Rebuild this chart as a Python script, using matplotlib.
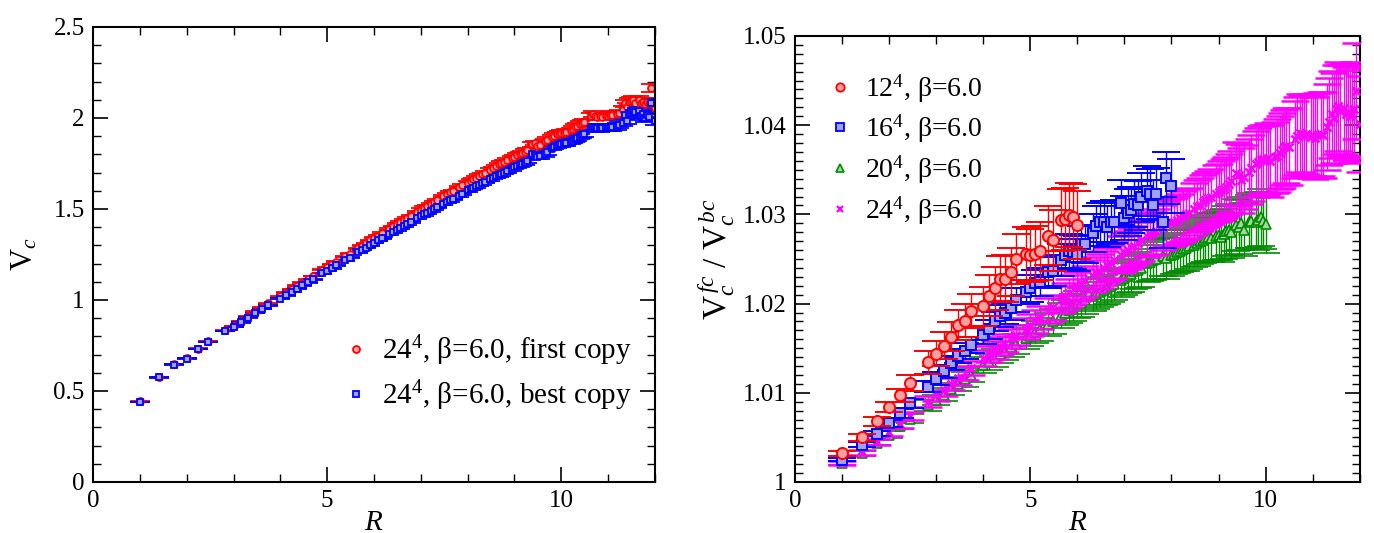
import numpy as np
import matplotlib
matplotlib.use('Agg')
import matplotlib.pyplot as plt
from matplotlib.lines import Line2D
from matplotlib.ticker import MultipleLocator, FormatStrFormatter

plt.rcParams['font.family'] = ['Liberation Serif', 'DejaVu Serif']
plt.rcParams['mathtext.fontset'] = 'custom'
plt.rcParams['mathtext.rm'] = 'Liberation Serif'
plt.rcParams['mathtext.it'] = 'Liberation Serif:italic'

# squared lattice distances (R^2 = n1^2 + n2^2 + n3^2)
R2 = [1, 2, 3, 4, 5, 6, 8, 9, 10, 11, 12, 13, 14, 16, 17, 18, 19, 20, 21, 22,
      24, 25, 26, 27, 29, 30, 32, 33, 34, 35, 36, 37, 38, 40, 41, 42, 43, 44, 45, 46,
      48, 49, 50, 51, 52, 53, 54, 56, 57, 58, 59, 61, 62, 64, 65, 66, 67, 68, 69, 70,
      72, 73, 74, 75, 76, 77, 78, 80, 81, 82, 83, 84, 85, 86, 88, 89, 90, 91, 93, 94,
      96, 97, 98, 99, 100, 101, 102, 104, 105, 106, 107, 108, 109, 110, 113, 114, 115, 116, 117, 118,
      120, 121, 122, 123, 125, 126, 128, 129, 130, 131, 132, 133, 134, 136, 137, 138, 139, 140, 141, 142,
      144]
R = np.sqrt(R2)

# left panel: V_c for 24^4, first copy / best copy
vc_first = [0.443, 0.578, 0.648, 0.681, 0.733, 0.773, 0.833, 0.856, 0.884, 0.910,
            0.936, 0.959, 0.981, 1.020, 1.040, 1.060, 1.079, 1.096, 1.114, 1.132,
            1.165, 1.179, 1.195, 1.210, 1.240, 1.255, 1.285, 1.299, 1.312, 1.327,
            1.341, 1.354, 1.367, 1.391, 1.404, 1.416, 1.428, 1.440, 1.452, 1.463,
            1.485, 1.497, 1.508, 1.518, 1.529, 1.540, 1.551, 1.571, 1.581, 1.591,
            1.600, 1.620, 1.629, 1.645, 1.655, 1.664, 1.672, 1.682, 1.690, 1.700,
            1.716, 1.724, 1.734, 1.745, 1.752, 1.760, 1.768, 1.780, 1.788, 1.794,
            1.800, 1.806, 1.815, 1.824, 1.855, 1.862, 1.848, 1.852, 1.872, 1.880,
            1.895, 1.902, 1.910, 1.912, 1.918, 1.920, 1.925, 1.932, 1.940, 1.950,
            1.957, 1.965, 1.972, 1.978, 2.010, 2.020, 2.012, 2.005, 2.010, 2.008,
            2.012, 2.010, 2.015, 2.018, 2.020, 2.025, 2.045, 2.080, 2.060, 2.090,
            2.095, 2.100, 2.085, 2.098, 2.080, 2.090, 2.075, 2.090, 2.080, 2.165,
            2.055]
vc_best = [0.440, 0.575, 0.645, 0.678, 0.729, 0.768, 0.828, 0.850, 0.878, 0.903,
           0.928, 0.950, 0.970, 1.007, 1.026, 1.045, 1.063, 1.080, 1.097, 1.114,
           1.146, 1.160, 1.175, 1.190, 1.219, 1.233, 1.262, 1.275, 1.288, 1.302,
           1.315, 1.327, 1.339, 1.362, 1.374, 1.385, 1.396, 1.407, 1.418, 1.428,
           1.449, 1.460, 1.470, 1.480, 1.490, 1.500, 1.510, 1.529, 1.538, 1.547,
           1.556, 1.574, 1.583, 1.602, 1.610, 1.618, 1.626, 1.634, 1.642, 1.650,
           1.664, 1.671, 1.679, 1.686, 1.693, 1.700, 1.707, 1.721, 1.728, 1.735,
           1.742, 1.748, 1.755, 1.762, 1.800, 1.797, 1.785, 1.790, 1.800, 1.812,
           1.835, 1.843, 1.848, 1.852, 1.857, 1.860, 1.863, 1.870, 1.876, 1.882,
           1.890, 1.898, 1.905, 1.912, 1.940, 1.950, 1.950, 1.945, 1.940, 1.945,
           1.948, 1.945, 1.948, 1.950, 1.955, 1.962, 1.975, 2.015, 1.985, 2.030,
           2.040, 2.045, 2.035, 2.040, 2.010, 2.020, 2.000, 2.015, 2.005, 2.080,
           1.985]
# errors in units of 1e-3
err_vc = [1, 1, 1, 1, 1, 1, 1, 1,
          2, 2, 2, 2, 2, 2, 2, 2, 2, 2, 2, 2,
          3, 3, 3, 3, 3, 3, 3, 3, 3, 3, 3,
          4, 4, 4, 5, 5, 5, 5, 5, 5, 5, 6, 6, 6, 6, 6, 6, 7, 7, 7, 7, 7, 8, 8,
          8, 8, 8, 9, 9, 9, 9, 9, 10, 10, 10, 10, 10, 10, 11,
          11, 11, 11, 12, 12, 12, 12, 13, 13, 13, 13, 13, 14, 14, 14, 14,
          14, 15, 15, 15, 15, 16, 16, 16, 16, 17, 17, 17, 17, 18, 18, 18, 18, 18, 19,
          19, 19, 19, 20, 20, 20, 20, 21, 21, 21, 21, 22, 22, 22, 22, 23, 23]

# right panel: ratio first copy / best copy (errors in units of 1e-4)
ratio_12 = [1.0032, 1.0050, 1.0068, 1.0084, 1.0097, 1.0111, 1.0134, 1.0144, 1.0153, 1.0163,
            1.0176, 1.0181, 1.0192, 1.0197, 1.0209, 1.0217, 1.0228, 1.0228, 1.0235, 1.0250,
            1.0256, 1.0254, 1.0256, 1.0259, 1.0276, 1.0271, 1.0294, 1.0295, 1.0299, 1.0297,
            1.0288]
err_12 = [3, 4, 5, 6, 7, 9, 13, 14, 15, 16, 17, 18, 19, 22, 23, 24, 25, 26, 27, 28,
          30, 30, 31, 32, 33, 34, 35, 35, 36, 37, 38]

ratio_16 = [1.0025, 1.0042, 1.0054, 1.0066, 1.0077, 1.0088, 1.0107, 1.0116, 1.0124, 1.0133,
            1.0141, 1.0147, 1.0154, 1.0165, 1.0171, 1.0180, 1.0186, 1.0189, 1.0195, 1.0204,
            1.0213, 1.0217, 1.0223, 1.0224, 1.0235, 1.0237, 1.0249, 1.0254, 1.0259, 1.0258,
            1.0256, 1.0267, 1.0267, 1.0279, 1.0287, 1.0291, 1.0292, 1.0286, 1.0291, 1.0292,
            1.0313, 1.0296, 1.0302, 1.0305, 1.0312, 1.0310, 1.0319, 1.0326, 1.0323, 1.0310,
            1.0323, 1.0291, 1.0341, 1.0332]
err_16 = [2, 3, 3, 4, 5, 5, 6, 7, 7, 8, 8, 9, 9, 10, 11, 11, 12, 12, 13, 13,
          14, 15, 15, 16, 17, 17, 18, 18, 19, 19, 20, 20, 21, 21, 22, 22, 23, 23, 24, 24,
          25, 25, 26, 26, 26, 27, 27, 28, 28, 28, 29, 29, 29, 30]

ratio_20 = [1.0021, 1.0032, 1.0044, 1.0053, 1.0063, 1.0071, 1.0086, 1.0092, 1.0098, 1.0104,
            1.0110, 1.0115, 1.0120, 1.0131, 1.0135, 1.0139, 1.0143, 1.0147, 1.0151, 1.0155,
            1.0161, 1.0164, 1.0168, 1.0171, 1.0177, 1.0180, 1.0187, 1.0190, 1.0193, 1.0196,
            1.0199, 1.0201, 1.0204, 1.0208, 1.0211, 1.0213, 1.0215, 1.0218, 1.0220, 1.0222,
            1.0226, 1.0229, 1.0231, 1.0233, 1.0236, 1.0238, 1.0240, 1.0245, 1.0247, 1.0249,
            1.0250, 1.0253, 1.0251, 1.0254, 1.0256, 1.0258, 1.0259, 1.0261, 1.0262, 1.0264,
            1.0266, 1.0268, 1.0270, 1.0271, 1.0273, 1.0275, 1.0274, 1.0276, 1.0277, 1.0275,
            1.0278, 1.0281, 1.0283, 1.0280, 1.0288, 1.0286, 1.0290, 1.0283, 1.0292, 1.0293,
            1.0291, 1.0294, 1.0297, 1.0293, 1.0289]
err_20 = [2, 3, 3, 4, 4, 5,
          6, 6, 7, 7, 8, 8, 8,
          9, 9, 10, 10, 10, 11, 11,
          12, 12, 12, 13, 13, 14, 14, 14, 15, 15, 15,
          16, 16, 16, 17, 17, 17, 18, 18, 18, 19, 19, 19, 20, 20, 20, 21, 21, 22, 22, 22, 22, 23, 23,
          23, 24, 24, 24, 25, 25, 25, 26, 26, 26, 26, 27, 27, 27, 28,
          28, 28, 28, 29, 29, 29, 30, 30, 30, 30, 31, 31, 31, 32, 32, 32]

ratio_24 = [1.0021, 1.0033, 1.0045, 1.0056, 1.0065, 1.0074, 1.0090, 1.0097, 1.0103, 1.0110,
            1.0117, 1.0122, 1.0128, 1.0139, 1.0143, 1.0148, 1.0152, 1.0156, 1.0161, 1.0165,
            1.0172, 1.0176, 1.0180, 1.0184, 1.0192, 1.0196, 1.0205, 1.0208, 1.0212, 1.0216,
            1.0219, 1.0222, 1.0225, 1.0231, 1.0234, 1.0237, 1.0240, 1.0243, 1.0246, 1.0249,
            1.0255, 1.0258, 1.0260, 1.0263, 1.0265, 1.0268, 1.0271, 1.0276, 1.0278, 1.0279,
            1.0281, 1.0285, 1.0289, 1.0291, 1.0292, 1.0294, 1.0296, 1.0298, 1.0300, 1.0302,
            1.0306, 1.0309, 1.0311, 1.0314, 1.0316, 1.0318, 1.0320, 1.0323, 1.0325, 1.0327,
            1.0329, 1.0331, 1.0334, 1.0337, 1.0346, 1.0344, 1.0338, 1.0342, 1.0348, 1.0352,
            1.0357, 1.0359, 1.0361, 1.0362, 1.0361, 1.0363, 1.0360, 1.0364, 1.0366, 1.0369,
            1.0372, 1.0375, 1.0377, 1.0376, 1.0384, 1.0388, 1.0391, 1.0390, 1.0388, 1.0390,
            1.0387, 1.0389, 1.0386, 1.0389, 1.0390, 1.0389, 1.0398, 1.0404, 1.0412, 1.0408,
            1.0418, 1.0421, 1.0416, 1.0419, 1.0413, 1.0415, 1.0410, 1.0412, 1.0418, 1.0438,
            1.0401]
err_24 = [2, 3, 3, 4, 5, 5, 6, 6,
          7, 7, 8, 8, 8, 9, 9, 10, 10, 10, 11, 11,
          12, 12, 13, 13, 14, 14, 15, 15, 16, 16, 16,
          17, 17, 18, 18, 19, 19, 19, 20, 20, 21, 21, 21, 22, 22, 23, 23, 24, 24, 24, 25, 25, 26, 26,
          26, 27, 27, 28, 28, 28, 29, 29, 30, 30, 30, 31, 31, 32, 32,
          33, 33, 33, 34, 34, 35, 35, 36, 36, 36, 37, 37, 38, 38, 38, 39,
          39, 40, 40, 41, 41, 42, 42, 42, 43, 43, 44, 44, 44, 45, 45, 46, 46, 46, 47,
          47, 48, 48, 49, 49, 50, 50, 50, 51, 51, 52, 52, 52, 53, 53, 54, 54]

RED, BLUE, GREEN, MAGENTA = '#ff0000', '#0000ff', '#008c00', '#ff00ff'
LIGHT_RED, LIGHT_BLUE, LIGHT_GREEN = '#ffa0a0', '#a0a0ff', '#a0d8a0'


def style_axes(ax):
    ax.tick_params(which='both', direction='in', top=True, right=True, labelsize=18)
    ax.tick_params(which='major', length=11, width=1.2, pad=6)
    ax.tick_params(which='minor', length=5.5, width=1.0)
    for s in ax.spines.values():
        s.set_linewidth(1.5)


fig = plt.figure(figsize=(13.74, 5.33), dpi=100)
ax1 = fig.add_axes([0.0677, 0.0957, 0.409, 0.8537])
ax2 = fig.add_axes([0.5786, 0.0957, 0.411, 0.8368])

# left panel
ax1.errorbar(R, vc_first, yerr=np.array(err_vc) * 1e-3, fmt='o', ms=5, mfc=LIGHT_RED,
             mec=RED, mew=1.3, ecolor=RED, elinewidth=1, capsize=7, capthick=1)
ax1.errorbar(R, vc_best, yerr=np.array(err_vc) * 1e-3, fmt='s', ms=5, mfc=LIGHT_BLUE,
             mec=BLUE, mew=1.3, ecolor=BLUE, elinewidth=1, capsize=7, capthick=1)
ax1.set_xlim(0, 12)
ax1.set_ylim(0, 2.5)
ax1.xaxis.set_major_locator(MultipleLocator(5))
ax1.xaxis.set_minor_locator(MultipleLocator(1))
ax1.yaxis.set_major_locator(MultipleLocator(0.5))
ax1.yaxis.set_minor_locator(MultipleLocator(0.1))
ax1.yaxis.set_major_formatter(FormatStrFormatter('%g'))
ax1.set_xlabel(r'$R$', fontsize=21, labelpad=-2)
ax1.set_ylabel(r'$\mathrm{V}_c$', fontsize=22, labelpad=10)
style_axes(ax1)
h1 = [Line2D([], [], ls='none', marker='o', ms=5, mfc=LIGHT_RED, mec=RED, mew=1.3),
      Line2D([], [], ls='none', marker='s', ms=5, mfc=LIGHT_BLUE, mec=BLUE, mew=1.3)]
ax1.legend(h1, [r'24$^4$, β=6.0, first copy', r'24$^4$, β=6.0, best copy'],
           loc='lower right', bbox_to_anchor=(1.005, 0.095), frameon=False,
           fontsize=21, handlelength=0.8, handletextpad=0.5, labelspacing=0.35)

# right panel
ax2.errorbar(R[:85], ratio_20, yerr=np.array(err_20) * 1e-4, fmt='^', ms=7, mfc=LIGHT_GREEN,
             mec=GREEN, mew=1.2, ecolor=GREEN, elinewidth=1, capsize=10, capthick=1, zorder=2)
ax2.errorbar(R, ratio_24, yerr=np.array(err_24) * 1e-4, fmt='x', ms=6, mec=MAGENTA,
             mew=1.8, ecolor=MAGENTA, elinewidth=1, capsize=10, capthick=1, zorder=3)
ax2.errorbar(R[:54], ratio_16, yerr=np.array(err_16) * 1e-4, fmt='s', ms=7.5, mfc=LIGHT_BLUE,
             mec=BLUE, mew=1.4, ecolor=BLUE, elinewidth=1, capsize=10, capthick=1, zorder=4)
ax2.errorbar(R[:31], ratio_12, yerr=np.array(err_12) * 1e-4, fmt='o', ms=8, mfc=LIGHT_RED,
             mec=RED, mew=1.4, ecolor=RED, elinewidth=1, capsize=10, capthick=1, zorder=5)
ax2.set_xlim(0, 12)
ax2.set_ylim(1.0, 1.05)
ax2.xaxis.set_major_locator(MultipleLocator(5))
ax2.xaxis.set_minor_locator(MultipleLocator(1))
ax2.yaxis.set_major_locator(MultipleLocator(0.01))
ax2.yaxis.set_minor_locator(MultipleLocator(0.001))
ax2.yaxis.set_major_formatter(FormatStrFormatter('%g'))
ax2.set_xlabel(r'$R$', fontsize=21, labelpad=-2)
ax2.set_ylabel(r'$\mathrm{V}_c^{\,fc}\ /\ \mathrm{V}_c^{\,bc}$', fontsize=24, labelpad=4)
style_axes(ax2)
h2 = [Line2D([], [], ls='none', marker='o', ms=6, mfc=LIGHT_RED, mec=RED, mew=1.3),
      Line2D([], [], ls='none', marker='s', ms=5.5, mfc=LIGHT_BLUE, mec=BLUE, mew=1.3),
      Line2D([], [], ls='none', marker='^', ms=6, mfc=LIGHT_GREEN, mec=GREEN, mew=1.2),
      Line2D([], [], ls='none', marker='x', ms=5, mec=MAGENTA, mew=1.6)]
ax2.legend(h2, [r'12$^4$, β=6.0', r'16$^4$, β=6.0', r'20$^4$, β=6.0', r'24$^4$, β=6.0'],
           loc='upper left', bbox_to_anchor=(0.015, 0.975), frameon=False, fontsize=20,
           handlelength=0.8, handletextpad=0.5, labelspacing=0.3)

fig.savefig('out.png', dpi=100)
